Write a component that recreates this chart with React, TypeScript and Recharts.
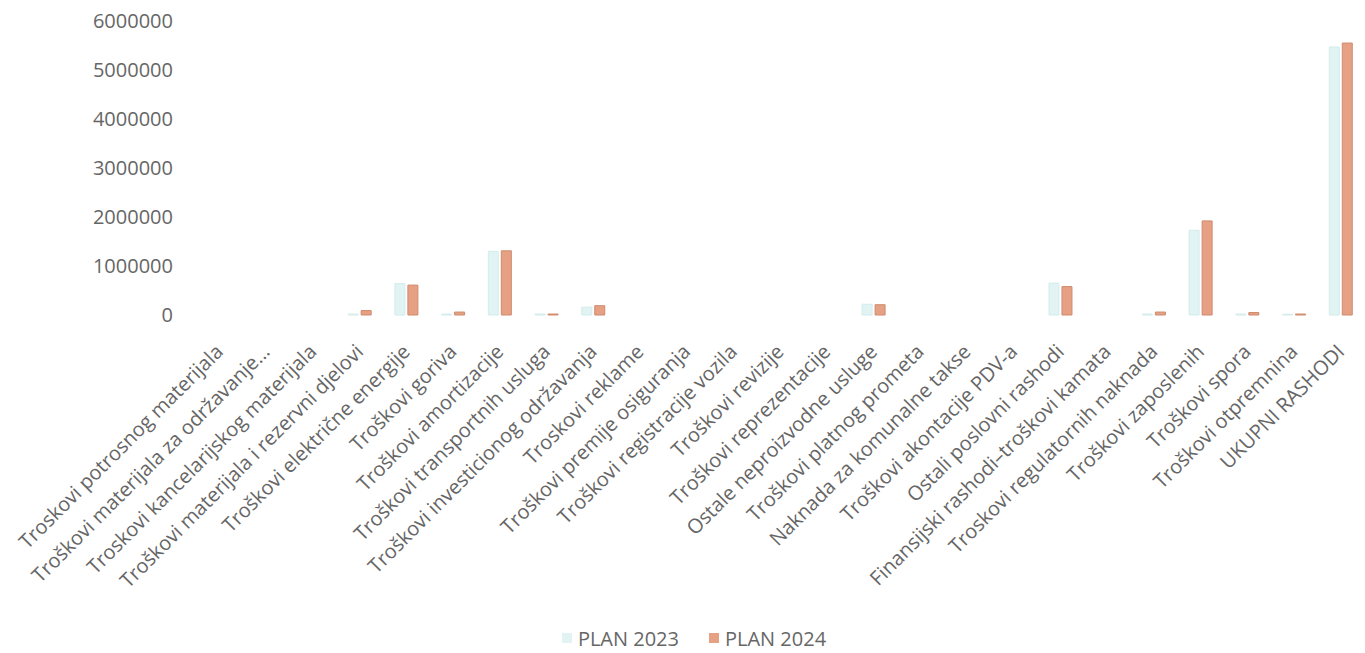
import React from 'react';
import { BarChart, Bar, XAxis, YAxis, Legend } from 'recharts';

const CATEGORIES = [
  'Troskovi potrosnog materijala',
  'Troškovi materijala za održavanje...',
  'Troskovi kancelarijskog materijala',
  'Troškovi materijala i rezervni djelovi',
  'Troškovi električne energije',
  'Troškovi goriva',
  'Troškovi amortizacije',
  'Troškovi transportnih usluga',
  'Troškovi investicionog održavanja',
  'Troskovi reklame',
  'Troškovi premije osiguranja',
  'Troškovi registracije vozila',
  'Troškovi revizije',
  'Troškovi reprezentacije',
  'Ostale neproizvodne usluge',
  'Troškovi platnog prometa',
  'Naknada  za komunalne takse',
  'Troškovi akontacije PDV-a',
  'Ostali poslovni rashodi',
  'Finansijski rashodi–troškovi kamata',
  'Troskovi regulatornih naknada',
  'Troškovi zaposlenih',
  'Troškovi spora',
  'Troškovi otpremnina',
  'UKUPNI RASHODI',
];

const PLAN_2023 = [
  0, 0, 0, 20000, 640000, 20000, 1300000, 20000, 160000, 0, 0, 0, 0, 0, 220000,
  0, 0, 0, 650000, 0, 20000, 1730000, 20000, 15000, 5470000,
];

const PLAN_2024 = [
  0, 0, 0, 90000, 610000, 60000, 1310000, 20000, 190000, 0, 0, 0, 0, 0, 210000,
  0, 0, 0, 580000, 0, 60000, 1920000, 50000, 20000, 5550000,
];

const Y_TICKS = [0, 1000000, 2000000, 3000000, 4000000, 5000000, 6000000];

const SERIES = [
  { key: 'plan2023', name: 'PLAN 2023', fill: '#e1f3f3', stroke: '#d3ecec' },
  { key: 'plan2024', name: 'PLAN 2024', fill: '#e6a184', stroke: '#cf8a6c' },
];

const data = CATEGORIES.map((name, i) => ({
  name,
  plan2023: PLAN_2023[i],
  plan2024: PLAN_2024[i],
}));

const TEXT = '#666666';
const FONT = '"Open Sans", sans-serif';

const CategoryTick = ({ x, y, payload }: any) => (
  <g transform={`translate(${x + 5},${y + 30})`}>
    <text
      transform="rotate(-45)"
      textAnchor="end"
      fill={TEXT}
      fontSize={20}
      fontFamily={FONT}
    >
      {payload.value}
    </text>
  </g>
);

const LegendContent = () => (
  <div
    style={{
      display: 'flex',
      justifyContent: 'center',
      alignItems: 'center',
      height: 30,
      paddingLeft: 24,
      fontFamily: FONT,
      fontSize: 20,
      color: TEXT,
    }}
  >
    {SERIES.map((s, i) => (
      <div key={s.key} style={{ display: 'flex', alignItems: 'center', marginLeft: i ? 30 : 0 }}>
        <span style={{ width: 10, height: 10, background: s.fill, marginRight: 6 }} />
        <span>{s.name}</span>
      </div>
    ))}
  </div>
);

export default function App() {
  return (
    <div>
      <style>{'body{margin:0;background:#fff}'}</style>
      <BarChart
        width={1365}
        height={653}
        data={data}
        margin={{ top: 21, right: 1, left: 0, bottom: 0 }}
        barSize={10}
        barGap={3}
      >
        <XAxis
          dataKey="name"
          interval={0}
          axisLine={false}
          tickLine={false}
          height={308}
          tick={<CategoryTick />}
        />
        <YAxis
          width={196}
          domain={[0, 6000000]}
          ticks={Y_TICKS}
          axisLine={false}
          tickLine={false}
          tick={{ fill: TEXT, fontSize: 20, fontFamily: FONT, dx: -15 }}
        />
        <Legend verticalAlign="bottom" content={<LegendContent />} />
        {SERIES.map((s) => (
          <Bar
            key={s.key}
            dataKey={s.key}
            name={s.name}
            fill={s.fill}
            stroke={s.stroke}
            strokeWidth={1}
            isAnimationActive={false}
          />
        ))}
      </BarChart>
    </div>
  );
}
